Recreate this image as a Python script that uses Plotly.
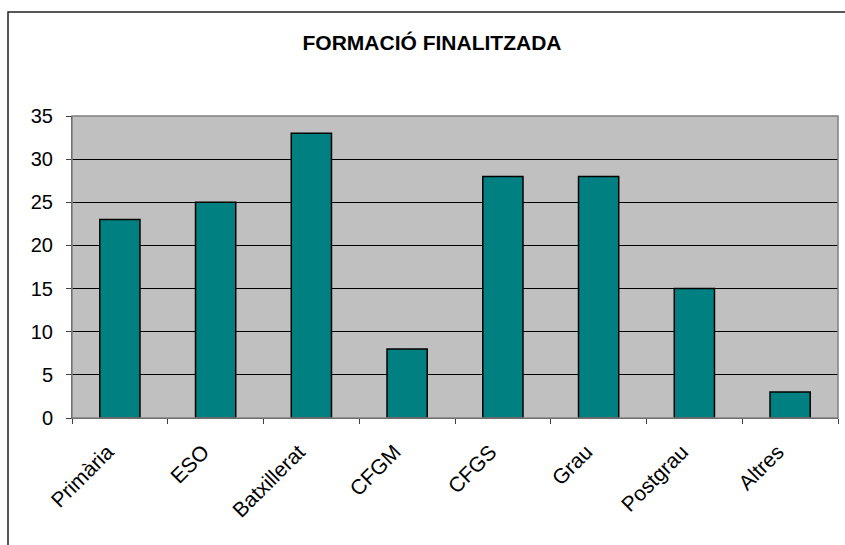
import plotly.graph_objects as go

categories = ["Primària", "ESO", "Batxillerat", "CFGM", "CFGS", "Grau", "Postgrau", "Altres"]
values = [23, 25, 33, 8, 28, 28, 15, 3]
title_text = "FORMACIÓ FINALITZADA"

W, H = 845, 545
L, R, T, B = 72, 838, 116, 418
pw, ph = R - L, B - T

# trailing non-breaking spaces nudge the rotated labels along their baseline
pad = "\u00a0" * 3
tick_text = [c + pad for c in categories]

fig = go.Figure()
fig.add_trace(go.Bar(
    x=categories, y=values,
    marker=dict(color="#008080", line=dict(color="#000000", width=1.5)),
    hoverinfo="skip",
))

def px_x(px):
    return (px - L) / pw

def px_y(py):
    return (B - py) / ph

fig.update_layout(
    width=W, height=H,
    margin=dict(l=L, r=W - R, t=T, b=H - B, pad=0),
    paper_bgcolor="white",
    plot_bgcolor="#C0C0C0",
    bargap=0.58,
    showlegend=False,
    font=dict(family="Liberation Sans, Arial, sans-serif", color="#000000", size=20),
    title=dict(
        text="<b>" + title_text + "</b>",
        x=432 / W, xanchor="center", xref="container",
        y=1 - 43 / H, yanchor="middle", yref="container",
        font=dict(size=21, family="Liberation Sans, Arial, sans-serif", color="#000000"),
    ),
    xaxis=dict(
        type="category",
        tickangle=-45,
        tickmode="array", tickvals=categories, ticktext=tick_text,
        ticks="outside", ticklen=5, tickcolor="#404040", tickwidth=1,
        tickson="boundaries",
        showline=True, linecolor="#404040", linewidth=1,
        showgrid=False, zeroline=False,
        tickfont=dict(size=21),
        ticklabelstandoff=0,
        fixedrange=True,
    ),
    yaxis=dict(
        range=[0, 35], dtick=5, tick0=0,
        ticks="outside", ticklen=5, tickcolor="#404040", tickwidth=1,
        showline=True, linecolor="#404040", linewidth=1,
        showgrid=True, gridcolor="#000000", gridwidth=1,
        zeroline=False,
        tickfont=dict(size=20),
        ticklabelstandoff=9,
        fixedrange=True,
    ),
    shapes=[
        dict(type="rect", xref="paper", yref="paper", x0=0, y0=0, x1=1, y1=1,
             line=dict(color="#808080", width=1.5), layer="above"),
        dict(type="rect", xref="paper", yref="paper",
             x0=px_x(8), y0=px_y(560), x1=px_x(860), y1=px_y(12),
             line=dict(color="#202020", width=1.5), layer="above"),
    ],
)

fig.write_html(
    "out.html",
    config={"displayModeBar": False},
    post_script="document.body.style.margin='0';document.body.style.overflow='hidden';",
)
